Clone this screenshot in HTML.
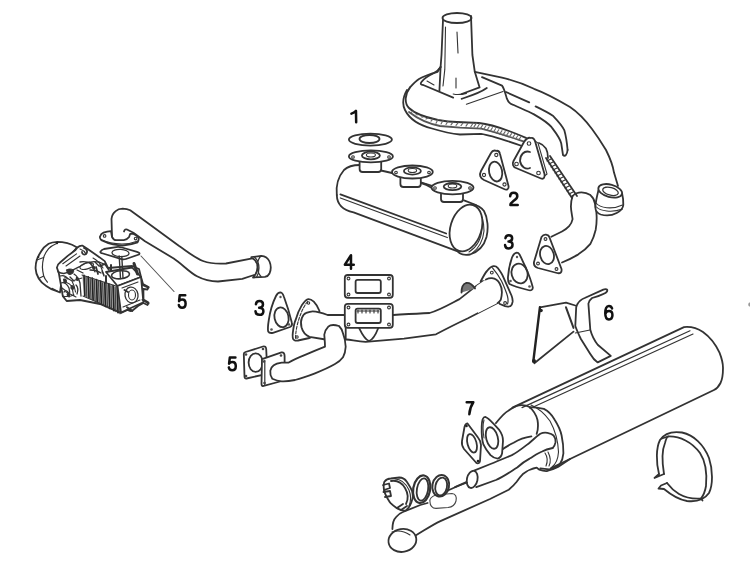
<!DOCTYPE html>
<html><head><meta charset="utf-8">
<style>
html,body{margin:0;padding:0;background:#fff;width:750px;height:563px;overflow:hidden}
svg{display:block}
.l{fill:none;stroke:#333;stroke-width:1.8;stroke-linejoin:round;stroke-linecap:round}
.t{fill:none;stroke:#333;stroke-width:1.1;stroke-linecap:round}
.w{fill:#fff;stroke:#333;stroke-width:1.8;stroke-linejoin:round}
.n{font-family:"Liberation Sans",sans-serif;font-weight:bold;font-size:17px;fill:#111}
</style></head><body>
<svg width="750" height="563" viewBox="0 0 750 563">
<!-- HEATER BOX (top) -->
<g id="heater">
<path class="l" d="M410,87.4 C413,84 416,81 419,79 C424,76 430,74 437.6,71.8 L440.6,67"/>
<path class="l" d="M440.6,67 C438,71 434,73 434,73 C428,76 424,78 421.4,82 C420,84 421,85 423.2,85 L453.2,97.6"/>
<path class="t" d="M427,81 L434,85"/>
<path class="l" d="M407,90 C403,97 402,104 405,110 C409,118 418,125 432,128.5 C442,131.5 450,133.5 460,134.5 L481,133.8 C490,135 505,140 522,146"/>
<path class="l" d="M410,87.4 C405,94 404,103 409,108 C413,112 420,116 438,120 C446,121.5 452,122 457,122 L479,123 C490,124 510,131 526,137.9"/>
<path class="l" d="M409,112 C418,119 430,124 440,126 L460,127.6 L481.3,128.7 C495,132 510,137 524,141.5" style="stroke:#555"/>
<path class="t" d="M413.0,111.1 L411.0,112.6 M418.0,114.7 L416.0,114.7 M423.0,117.1 L421.0,116.8 M428.0,118.0 L426.0,119.0 M433.0,118.8 L431.0,121.1 M438.0,119.6 L436.0,123.3 M443.0,120.5 L441.0,124.0 M448.0,121.3 L446.0,124.5 M453.0,122.1 L451.0,124.9 M458.0,122.8 L456.0,125.3 M463.0,123.0 L461.0,125.7 M468.0,123.1 L466.0,126.1 M473.2,123.0 L470.8,126.7 M476.4,123.1 L474.0,126.9 M479.6,123.8 L477.2,127.7 M482.8,124.8 L480.4,128.6 M486.0,125.8 L483.6,129.5 M489.2,126.8 L486.8,130.5 M492.4,127.7 L490.0,131.4 M495.6,128.7 L493.2,132.3 M498.8,129.7 L496.4,133.2 M502.0,130.6 L499.6,134.2 M505.2,131.6 L502.8,135.1 M508.4,132.6 L506.0,136.0 M511.6,133.6 L509.2,136.9 M514.8,134.5 L512.4,137.9 M518.0,135.5 L515.6,138.8 M521.2,136.5 L518.8,139.7 " style="stroke:#666;stroke-width:1.1"/>
<path class="l" d="M443,20 L441.5,55 L440.6,67 L439.4,91"/>
<path class="t" d="M445.5,27 L444.8,69.4 L443,86"/>
<path class="l" d="M471,16 L472.4,55 L474.8,71.8 L479.6,87.4 L461.6,94"/>
<path class="l" d="M486.8,88 C480,93 470,96 461.6,98.8"/>
<path class="t" d="M453.2,94 C457,95 462,94.5 466.4,93.4"/>
<path class="t" d="M457,32 L458,53 M456,78 L456,88"/>
<ellipse class="l" cx="457" cy="18" rx="14.5" ry="5"/>
<path class="l" d="M474.8,71.8 L502,77.6 C512,80 524,84 534,88.8 C548,94 560,101 570,107 C579,113 586,121 592,129 C598,137 603,145 606,150 C610,158 613,166 614,172.6 L618,186"/>
<path class="l" d="M482,77.2 L502,85.6 C504,88 505,92 506.8,98.4 C508,102 510,104 513.2,104.8 C520,108 528,111 534,114.4 C542,119 548,123 551.6,127.2 C556,133 560,138 561.2,143.2 L563,155 C565,157 567,155 567.6,150"/>
<path class="l" d="M506,92 L529.2,102.4 M535.6,106.4 C543,110 549,113 553.2,116 C558,121 562,125 564.4,130.4 C566,136 567,143 567.6,150"/>
<path class="t" d="M466.4,104.2 L503,91.5"/>
</g>
<!-- heater flange & flex -->
<path class="w" d="M530.8,138 C528,137 526,139 524,142 L513.5,161 C512,164 513,167 516,168 L541,178.5 C544,179.5 545,177 544.5,174 L535,141 C534,138 532.5,137.5 530.8,138 Z"/>
<path class="t" d="M535,141 L538,143 L547,174 L544.5,176"/>
<path class="l" d="M530,152 C524,150 520,155 520,161 C521,167 526,170 530,168"/>
<circle class="t" cx="529" cy="143.5" r="1.8"/><circle class="t" cx="516.5" cy="164" r="1.8"/><circle class="t" cx="538.5" cy="173" r="1.8"/>
<path class="l" d="M546,158 L572,198 M550,156 L577,196"/>
<path class="t" d="M547,161 l4,-2 M549,164 l4,-2 M551,167 l4,-2 M553,170 l4,-2 M555,173 l4,-2 M557,176 l4,-2 M559,179 l4,-2 M561,182 l4,-2 M563,185 l4,-2 M565,188 l4,-2 M567,191 l4,-2 M569,194 l4,-2"/>
<path class="l" d="M539,143 C545,145 548,150 548,158"/>
<!-- elbow -->
<path class="l" d="M572.6,196 C575,193.5 578,192.4 581.5,192.4 C585,192.4 588,193.5 590.4,195.1 C593,197.5 594.5,200 594.8,203.1 C596,207 596.6,211 596.6,215.5 C596.8,220 596.5,225 595.7,229.7 C594.5,235 592.5,240 590.4,243.9 C587,248 583,251.5 578,254.6 C573,257.5 568,260 562,262.5"/>
<path class="l" d="M572.6,196 C571.5,199 571,203 570.9,206.6 C571,211 572,215 572.6,219.1 C572,222 571,224 569.1,226.2 C567,228.5 565,230 562,231.5 L551.3,236.8"/>
<path class="w" d="M598.5,190 C597,196 595.5,202 595.3,207.3 C595.5,211 597.5,213.5 600.7,214.5 C606,216 612,215.5 616.7,213 C620.5,211 623,209 623.3,205 C623.5,201 623,197 622,193"/>
<path class="t" d="M596,203 C600,208 612,210 622.5,205 M596.5,207 C600,211 612,213 622.5,209"/>
<ellipse class="w" cx="610.2" cy="190.8" rx="12.2" ry="6.2" transform="rotate(15 610.2 190.8)"/>
<ellipse class="t" cx="610.5" cy="191.3" rx="8" ry="3.8" transform="rotate(15 610.5 191.3)" style="stroke-width:1.3"/>
<!-- GASKET 2 -->
<path class="l" d="M496.4,150.8 C494,150 492,151 491,153 L481,171 C479,175 480,178 484,180 L504,189 C507,190.5 509,189 508.5,186 L500,154 C499.5,151.5 498,150.5 496.4,150.8 Z"/>
<ellipse class="l" cx="495.6" cy="171.6" rx="6.5" ry="10" transform="rotate(-12 495.6 171.6)"/>
<circle class="t" cx="496.3" cy="155" r="1.6"/><circle class="t" cx="484" cy="175" r="1.6"/><circle class="t" cx="504.5" cy="184.5" r="1.6"/>
<!-- GASKET 1 + MUFFLER -->
<ellipse class="l" cx="370.4" cy="139.6" rx="21.5" ry="6"/>
<ellipse class="l" cx="369.5" cy="139" rx="10" ry="4"/>
<path class="l" d="M336.8,195 C336,187 338,177 344,170 C348,166 354,165 360,165"/>
<path class="l" d="M381,170.5 L392,173 M420.8,182.4 L432.8,186 M464,200.4 L476,205"/>
<path class="l" d="M336.8,195 C337,203 342,210 353.6,212.4 L457.7,251.4"/>
<path class="l" d="M340.4,194.4 L446.2,233.5" style="stroke-width:1.8"/><path class="l" d="M340.4,198 L447.3,237.5" style="stroke-width:1.3"/>
<path class="l" d="M471.6,204.2 C476,205 481,207 484,211 C488,218 488.5,229 486.5,237 C484,246 478,252 470,254.5 C465,255.5 460,254 457.7,251.4"/>
<path class="t" d="M474,206 C479,210 482,218 482,228 C481.5,238 477,247 469,252"/>
<path class="t" d="M477,208 C482,214 484,222 484,231 C483,241 479,248 472,253.5"/>
<ellipse class="w" cx="466" cy="228" rx="15.5" ry="24" transform="rotate(17 466 228)"/>
<!-- flanges on muffler -->
<g>
<rect class="w" x="359.6" y="157" width="21.6" height="15" rx="3"/>
<ellipse class="w" cx="370.9" cy="156.4" rx="22" ry="6"/>
<ellipse class="l" cx="370.9" cy="155.5" rx="9" ry="3.8"/>
<ellipse class="t" cx="370.9" cy="155" rx="4.5" ry="2"/>
<circle class="t" cx="353" cy="157" r="1.3"/><circle class="t" cx="389" cy="157" r="1.3"/>
<rect class="w" x="400.4" y="173" width="20.4" height="14" rx="3"/>
<ellipse class="w" cx="412.4" cy="172" rx="20.4" ry="6.5"/>
<ellipse class="l" cx="412.4" cy="171" rx="8.5" ry="3.6"/>
<ellipse class="t" cx="412.4" cy="170.5" rx="4.2" ry="2"/>
<circle class="t" cx="396" cy="172.5" r="1.3"/><circle class="t" cx="429" cy="172.5" r="1.3"/>
<path class="l" d="M421,183 C426,184 429,186 432,188"/>
<rect class="w" x="441" y="189" width="22" height="13" rx="3"/>
<ellipse class="w" cx="452.5" cy="187.6" rx="21" ry="6.8"/>
<ellipse class="l" cx="452.5" cy="186.6" rx="8.8" ry="3.6"/>
<ellipse class="t" cx="452.5" cy="186" rx="4.3" ry="2"/>
<circle class="t" cx="435" cy="188" r="1.3"/><circle class="t" cx="470" cy="188" r="1.3"/>
</g>
<!-- ENGINE PIPE -->
<path class="l" d="M112,237 L111.5,218.9 C112,215 113,213 115.3,211.4 C117.5,209.5 120,208.7 122.7,208.7 C125.5,208.8 128,209.3 130.2,210.3 L145,221 L178.8,245.8 C188,252 195,258 203,261 C210,263.5 218,264 226,263.5 L253.6,258.2"/>
<path class="l" d="M124,231.5 C124.5,229.5 126,229 127,229.5 L133.4,232.7 L145,241.2 L173.7,258.5 C182,264 189,272 197,276.3 C204,280 210,281.5 218,281.5 L242.3,278.8 L254,275"/>
<path class="w" d="M251.3,257.2 L261.3,255.8 C265,256 268,258 269.5,261.5 C271,265 271,270 269.5,273.5 C268.5,275.5 267,276.5 264.9,276.9 L253,277.5 C255.5,275 257.5,271 257.5,267 C257.5,263 255,259.5 251.3,257.2 Z"/><path class="t" d="M261.3,255.8 C258.5,258 257.5,262 257.5,266 C257.5,270 258.5,274 261,276.5 M254.5,257 C257.5,260 259,264 259,268 C259,272 258,275 256.5,277.3" style="stroke-width:1.2"/>

<path class="t" d="M141,256 L174,291.5" style="stroke:#555"/>
<!-- ENGINE -->
<g id="engine">
<!-- pipe flange -->
<path class="w" d="M99.8,237 C100.5,235 101.5,233.5 103.5,232.7 C106,231.8 108.5,231.3 111,231.1 L112,237 C113,239 115,240.2 116.3,240.2 L123.8,240.2 C126,239.8 128,238.5 129.1,237 L130.2,233.8 L133.4,233.8 C135.5,234.5 137.5,236 138.7,238 C139,239.5 138.5,241 137.6,242.3 C133,244 128,245 122.7,245.5 C119.5,245.5 116,245 113.1,244.4 C109,243.5 105,242 101.4,240.2 C100.5,239.5 100,238.5 99.8,237 Z"/>
<path class="t" d="M101,239.5 C106,242 113,243.8 122,244 C128,244 133,243 138,241" style="stroke-width:1.2"/>
<circle class="t" cx="104.6" cy="235.9" r="1.3"/><circle class="t" cx="135.6" cy="238.6" r="1.3"/>
<!-- lower gasket -->
<path class="w" d="M100.3,251.9 C101,250.5 102,249.5 104,249 L116.3,247.1 C118,246.8 120,247 122,247.5 L137,251.8 C139.5,252.5 140,253.5 139,254.5 L126,259 C124.5,259.5 123,259.5 121.5,259.2 L103,253.5 C101,253 100.3,252.5 100.3,251.9 Z"/>
<ellipse class="l" cx="120.5" cy="253" rx="8.5" ry="3.6" transform="rotate(3 120.5 253)" style="stroke-width:1.3"/>
<!-- fan shroud -->
<path class="w" d="M57.4,241.8 C54,242 51,242.5 48.6,243.7 C45,246 43,248 41.2,251.2 C39,255 37.5,257 36.8,259.9 C35.8,263 35.5,266 35.6,268.6 C35.7,272 37,275.5 38.7,278.5 C40.5,281.5 43,284 46.2,286 C49,288 52.5,290 56.1,291 L60,292.5 L64,262 L77.2,247.4 C74,245.5 71,244 67.3,243.1 C64,242.3 60,241.8 57.4,241.8 Z"/>
<path class="t" d="M56.1,243.7 C53,245 50.5,246.5 48.6,248.7 C46,252 44.5,254.5 43.7,257.4 C42.8,261 42.4,264 42.4,267.3 C42.5,270.5 43,273 43.7,276 C44.5,278.5 46,280.5 47.4,282.2" style="stroke-width:1.2"/>
<path class="t" d="M36.8,259.9 L43.7,257.4 M38.7,278.5 L43.7,276 M52,288.2 L57.9,291.2"/>
<circle cx="57" cy="243" r="1.2" fill="#222"/><circle cx="38.5" cy="257" r="0.9" fill="#222"/>
<!-- main body silhouette -->
<path class="w" d="M56.9,267.6 C57.5,265 58.5,263.5 59.8,262.7 L67.7,255.9 L75.5,250 L77.5,247.5 C79,246 81,245.5 82.3,245.6 L87.3,248.7 L99.7,257.4 L104.7,261.1 L108,268 L132.2,266 L139,269 L141,277 L143,284 L148.5,287 L147.5,289.5 L143.4,289 L143.5,299.5 L148.5,302.5 L147.5,305 L143.4,303 L138,306 L132.5,310.5 L130,311 L127.5,310 L121,312.8 L116,311 L100,304 L80,300 L66.7,301 L62.8,296.1 L60.8,284.3 L58.9,273.5 Z"/>
<!-- manifold -->
<path class="l" d="M57.9,271.6 C60,273 62,273.5 63.8,273.5 C66,273 69,272 71.6,270.6 L79.5,266.7 L86.3,262.7 L92.1,261.8 C96,261.5 100,262 104,264" style="stroke-width:1.3"/>
<path class="t" d="M62.8,263.7 L76.5,253.9 M66,266 L80,256 M80,249 C83,250 85,252 86,254"/>
<path class="l" d="M84,248 C87,249 88,252 86,254 C84,255.5 82,254 82,252"/>
<ellipse class="t" cx="86.7" cy="266" rx="7" ry="3" transform="rotate(-15 86.7 266)" style="stroke-width:1.2"/>
<path class="l" d="M66.7,270 C68,268.6 71,268.6 73.6,270 C74,272 73,274 70,274.5 C68,274.5 66.7,273 66.7,270 Z" style="fill:#333;stroke-width:1"/>
<path class="t" d="M64.8,277.5 C67,278 70,279.5 72,281 C74,285 75,288 75.5,292 M66.5,282.5 C68,283 70,284 71.5,286 C72.5,289 73,292 73.5,295 M62,288 L66,291 M72,281 L82,278 M93,258 C97,260 100,263 103,268 M99,262 L104,275 M89,262 C92,265 94,268 95,272"/>
<path class="l" d="M71.5,285.5 C73,285 74.5,286.5 74,288.5 C73.5,290 71.5,290 71,288.5 Z" style="fill:#333;stroke-width:1"/>
<path class="l" d="M100,266 L105,264 L109,270 M96,267 L98,274"/>
<path class="t" d="M63,296 C66,297 70,296.5 74,295 M66,292 L76,297"/>
<!-- extra texture -->
<path class="t" d="M60,276 C63,275 66,276 68,279 M61,283 C64,282 67,284 69,288 C70,291 70,294 69,297 M74,274 C77,276 79,279 80,283 L81,296 M77,270 L83,273 M70,277 L74,281 M64,292 C66,290 68,291 69,294 M76,285 C78,287 78,291 77,294 M80,262 C84,261 88,262 92,264 M90,270 C94,270 98,271 101,273 M95,262 L99,266 M102,271 L104,276" style="stroke-width:1.3;stroke:#333"/>
<path d="M63,279 C65,278 67,279 67,281 C67,283 65,284 63.5,283 Z M76,277 C78,276.5 79.5,278 79,280 C78,281.5 76,281 75.5,279.5 Z M67,293 C69,292 70.5,293.5 70,295.5 C69,297 67,296.5 66.5,295 Z M92,265.5 C94,265 96,266.5 95.5,268.5 C94.5,270 92.5,269.5 92,268 Z" fill="#333"/>
<!-- fins -->
<path d="M82,275 L117.5,286.5 L121,312.5 L84,296 Z" fill="#bbb" stroke="none"/>
<path class="l" d="M84.0,275.3 L84.8,295.5 M88.2,276.8 L89.0,297.7 M92.3,278.2 L93.1,299.8 M96.5,279.7 L97.2,302.0 M100.6,281.2 L101.4,304.1 M104.8,282.7 L105.5,306.3 M108.9,284.1 L109.7,308.4 M113.1,285.6 L113.9,310.6 M117.2,287.1 L118.0,312.7 " style="stroke-width:1.7;stroke:#222"/>
<path class="t" d="M86.0,277.0 L86.8,296.5 M90.2,278.5 L91.0,298.7 M94.3,280.0 L95.1,300.8 M98.5,281.4 L99.2,303.0 M102.6,282.9 L103.4,305.1 M106.8,284.4 L107.5,307.3 M110.9,285.8 L111.7,309.4 M115.1,287.3 L115.9,311.6 M119.2,288.8 L120.0,313.7 " style="stroke:#444;stroke-width:1.2"/>
<path class="t" d="M82,275 L117.5,286.5 M83,296 L121,312.5"/>
<!-- cylinder head top face -->
<path class="w" d="M106,272 L132,267.5 L141,277 L117.5,286 Z"/>
<ellipse class="l" cx="120.5" cy="274.8" rx="9" ry="4" transform="rotate(-6 120.5 274.8)" style="stroke-width:1.6"/>
<!-- right face -->
<path class="w" d="M117.5,286 L141,277 L143.4,302.2 L121,312.5 Z"/>
<ellipse class="l" cx="131.5" cy="295" rx="6.5" ry="8" transform="rotate(-10 131.5 295)" style="stroke-width:1.3"/>
<ellipse class="t" cx="132" cy="295" rx="3.5" ry="5"/>
<path class="t" d="M122,288 L138,282 M123,307 L140,300"/>
<!-- studs -->
<path class="l" d="M119.2,256 L120.5,278.6 M121.8,256.5 L123,278" style="stroke-width:1.4"/>
<path class="l" d="M134,263.5 L137.5,274" style="stroke-width:3"/>
<path class="l" d="M142.5,284.8 L148.5,287.5 M142.5,299.7 L148.5,303.5 M127,307.2 L132.2,310.9 M124.5,290 L128,292" style="stroke-width:2"/>
<path class="l" d="M106,276 L106,283 M111,265 L111,271" style="stroke-width:2"/>
</g>
<!-- MID PIPES: gaskets 3,4,5 -->
<path class="l" d="M280.6,292.4 C278.5,292.5 277,294 276,296 C272.5,303 270,312 268.8,320 C268,325 267.5,329 268.2,331.5 C269,333 271,333.2 273,332.8 L290,327 C292,326 292.5,324.5 291.8,322.5 C290,315 287,305 284,297 C283,294 282,292.5 280.6,292.4 Z"/>
<ellipse class="l" cx="281.5" cy="317.3" rx="7" ry="10" transform="rotate(-12 281.5 317.3)"/>
<circle cx="280.5" cy="297" r="1.2" fill="#555"/><circle cx="271.5" cy="329.5" r="1.3" fill="#555"/><circle cx="289" cy="324.5" r="1.2" fill="#555"/>
<!-- flange 3 left on pipe -->
<path class="w" d="M308.4,299.1 C310.5,299 312.5,300.5 313.8,301.7 C316,304 318,307 319.5,311 L312,336 C311,337.5 310,338 309.5,338 L298,340.5 C295,341 293,340 292.8,338 C292.5,336 292.5,335 292.8,333 C293.5,327 294.5,322 295.7,319.8 C297.5,313 299.5,309 302,304.9 C304,302 306,299.5 308.4,299.1 Z"/>
<path class="t" d="M307.5,301.5 C304,306 300,314 297.5,324 C296,330 295.5,335 295.5,339" style="stroke-dasharray:3 1.5"/>
<circle class="t" cx="308.5" cy="303" r="1.2"/><circle class="t" cx="297" cy="337" r="1.2"/>
<path class="w" d="M319.1,312.4 C322,313 325,314 327.6,315 L345.7,315 L345.7,339.5 L325.5,339.5 L309.5,336.9 C305,335 302.5,331 301.5,327.3 C300.5,323 301,320 302,317.7 C303,315 304.5,313.5 306.3,312.9 C309,311.8 311,311.3 312.7,311.3 C315,311.3 317,311.7 319.1,312.4 Z"/>
<path class="l" d="M393.3,315 L400,314.5 C412,314 422,313.5 429.6,313 C440,310 450,304 459.5,299.1 L476.3,285.9 L486,279.5"/>
<path class="w" d="M245.5,352 L263,346.5 C265,346 266,347 266.2,349 L267.3,371.5 C267.4,373 266.5,374 265,374.3 L246.5,378.5 C245.2,378.7 244.5,378 244.5,376.5 L243.8,354 C243.8,353 244.5,352.3 245.5,352 Z"/>
<ellipse class="l" cx="255.7" cy="362.6" rx="7.1" ry="9.3"/>
<circle cx="246" cy="354.5" r="1.3" fill="#444"/><circle cx="263" cy="349" r="1.3" fill="#444"/><circle cx="246" cy="376" r="1.3" fill="#444"/>
<!-- flange 5 -->
<path class="w" d="M262,359.1 L281.5,352.4 C283.5,352 284.6,353.5 284.6,356 L284.6,366 L280,381.5 L262.8,386.1 C261.8,386 261.5,385 261.5,383.5 Z"/>
<path class="t" d="M264.8,360.4 L264.8,384.4" style="stroke-width:1.2"/>
<circle cx="264" cy="361.5" r="1.3" fill="#444"/><circle cx="281" cy="355.5" r="1.3" fill="#444"/><circle cx="264.5" cy="383" r="1.3" fill="#444"/>
<!-- lower pipe to flange 5 -->
<path class="w" d="M328.3,326.7 C330,325 334,324.5 339,326 C341,328 342.5,330.5 343,333.3 C344.5,337 345.5,342 345.7,346.7 C345.5,351 344.5,354.5 343,357.3 C341,360 338,362.5 335,364 C329,367.5 322,370.5 315,373.3 C308,376 301,378.5 295,380 C290,381 285.5,381.5 281.7,381.3 C278,381 275,380 272.3,378.7 C270.5,376 270,373 270.3,370.7 C271,368 272,366.5 273.7,365.3 C276,363.5 279,363 281.7,362.7 C284,362.5 286,362.7 288.3,362.7 C294,359.5 300,357 305.7,354.7 C312,352 318,349.5 325,346.7 C325,342 324.5,338 324.3,334.7 C325,331 326.5,328.5 328.3,326.7 Z"/>
<path class="l" d="M346.5,339.5 C352,340 358,341.5 365.6,341.8 L404,338.6 L436,334.3 C448,328 458,323 468,318.3 L497.6,303"/>
<!-- flange 4 -->
<rect class="w" x="344.8" y="275" width="48" height="22.8" rx="3"/>
<rect class="l" x="355.6" y="279.8" width="25.2" height="13.2" rx="2"/>
<circle class="t" cx="348.5" cy="278.5" r="1.4"/><circle class="t" cx="389" cy="278.5" r="1.4"/><circle class="t" cx="348.5" cy="294.5" r="1.4"/><circle class="t" cx="389" cy="294.5" r="1.4"/>
<path class="l" d="M359,327.8 C362,334 366,340 369,341 C373,340 376,334 378.4,327.8"/>
<rect class="w" x="344.8" y="303.8" width="48" height="24" rx="3"/>
<rect class="l" x="355.6" y="308.6" width="25.2" height="14.4" rx="2"/>
<path class="t" d="M357,311 L379,311 M358,313 l0,-3 M362,313 l0,-3 M366,313 l0,-3 M370,313 l0,-3 M374,313 l0,-3 M378,313 l0,-3"/>
<circle class="t" cx="348.5" cy="307.5" r="1.4"/><circle class="t" cx="389" cy="307.5" r="1.4"/><circle class="t" cx="348.5" cy="324.5" r="1.4"/><circle class="t" cx="389" cy="324.5" r="1.4"/>
<!-- gasket 5 & flange 5 -->
<!-- gasket 3 right + flange -->
<path class="l" d="M516.8,252.7 C514.5,253 513,255 512,257.5 C510,263 508.5,270 508,277 C507.8,280 508,282.5 509.5,284 C513,286 520,288 528,290 C531,290.8 533,290 532.8,287.5 C531.5,282 529,275 526,268 C523,262 521,257 519.5,254.5 C518.8,253.3 517.8,252.7 516.8,252.7 Z"/>
<ellipse class="l" cx="519.6" cy="273.5" rx="8" ry="10" transform="rotate(-15 519.6 273.5)"/>
<circle cx="517" cy="257" r="1.2" fill="#555"/><circle cx="510.5" cy="281" r="1.3" fill="#555"/><circle cx="529.5" cy="286.5" r="1.3" fill="#555"/>
<path class="w" d="M480.6,281.6 C483,277 485,273 487,271 C489,268.5 491,266.5 493.4,266.2 C495,266 496.5,266.5 497.6,267.8 C500,271 502,274 503,276.3 L507.2,285.9 L511.5,295.5 C512.5,298 512.8,300 512.6,301.9 C512.3,304 511.5,305.5 510.4,306.2 C508.5,306.8 506.5,306.7 505.1,306.2 L499.8,304 L486,281 Z"/>
<path class="t" d="M492.5,267.8 C496,272 499,276 501.5,281 C503.5,285 505,289 506.5,293 C508,297 509,300 507.5,304" style="stroke-width:1.2"/>
<circle class="t" cx="491.8" cy="272.6" r="1.4"/><circle class="t" cx="505.1" cy="303" r="1.4"/>
<path d="M476.3,285.9 L485.9,279.5 C488,278.5 490,278 492,278.2 C495,278.5 498,280.5 499.8,283.8 C501.5,287 502,290 501.9,292.3 C501.8,295.5 501.3,298 500.8,299.8 C500,301 499,302.3 497.6,303 L478,313 Z" fill="#fff"/>
<path class="l" d="M485.9,279.5 C488,278.5 490,278 492,278.2 C495,278.5 498,280.5 499.8,283.8 C501.5,287 502,290 501.9,292.3 C501.8,295.5 501.3,298 500.8,299.8 C500,301 499,302.3 497.6,303"/>
<path class="l" d="M461.5,292.5 C461.5,288 463,284 466,283 C469,282.5 472,284 475,288.5" style="fill:#777"/>
<!-- flange on elbow (right) -->
<path class="w" d="M546,234.6 C544,234.3 542.5,235.5 541.5,237 L534,262 C533.5,265 535,267 538,268 L557,273 C560.5,274 562,272 561.5,269 L549.5,237.5 C549,235.5 547.5,234.8 546,234.6 Z"/>
<ellipse class="l" cx="547" cy="255" rx="6.8" ry="9.3" transform="rotate(-15 547 255)"/>
<circle class="t" cx="545.5" cy="239" r="1.4"/><circle class="t" cx="538" cy="263.5" r="1.4"/><circle class="t" cx="556.5" cy="269" r="1.4"/>
<!-- BRACKET 6 -->
<path class="l" d="M539.9,307.3 L566,302.7 L575.3,305.5 M573.5,331.6 L534.3,363.3"/><path class="l" d="M539.9,307.3 L533.3,361.5" style="stroke-width:2.4;stroke:#222"/>
<path class="l" d="M566,307.3 L573.5,327.9" style="stroke-width:2"/>
<path class="l" d="M577.2,304.5 C579,301 582,299 584.7,298 L603.3,289.6 C606,288.5 608,289.5 607,291.5 C606,293.5 602,295 592.1,298 C590,299.5 589,301 588.4,303.6 L590.3,329.7 C592,336 594,340 597.7,344.7 L610.8,355.9 L597.7,362.4 C594,360 592,357 590.3,354 L580.9,339 C578,333 576,328 575.3,326 L576.2,307.3 C576.5,306 577,305 577.2,304.5 Z"/>
<path class="t" d="M575.3,333 L590,330"/>
<circle cx="541" cy="310.5" r="1.8" fill="#222"/><circle cx="534" cy="361" r="2" fill="#222"/>
<!-- MUFFLER -->
<path class="l" d="M512.4,407.6 L684,327.1 C690,326.5 697,328 703,332 C710,337 716,345 719.5,352.7 C722,359 723,364 723,368 C723,375 722,380 720.5,383 C719,386 717,388.5 714,390 L550.7,468.3"/>
<path class="t" d="M522,407.6 L690,330.8 M530,408.5 L693,334" style="stroke-width:1.2"/>
<path class="l" d="M529.6,407.1 C535,407 540,408 543.9,408.9 C548,411 552,415 554.5,419.5 C558,425 560.5,430 561.6,435.5 C563,442 563.5,448 563.4,453.3 C563,458 562,461 559.9,464 C557,467 553,469 549.2,469.3 L540.3,468.4"/>
<path class="t" d="M531,405 C538,408 545,414 550,421 C555,430 558,440 558.5,452 C558,460 556,464 552,467"/>
<!-- pipes from muffler -->
<path class="l" d="M495.9,423.1 C500,418 504,413 508.3,410.7 C512,408 515,406 519,405.3 C523,404.8 527,405.5 529.6,407.1 C533,410 536,414 537.5,420 C538.5,426 538,430 536.7,433.8"/>
<path class="l" d="M499.4,451.5 C504,448 509,445 513.6,442.7 C518,440 524,437.5 531.4,436.4"/>
<path class="l" d="M472.8,471.1 L490.5,464 C498,461 505,458 511.9,455.1 C518,452 524,447 529.6,442.7 C534,439 537,436 540.3,433.8 C543,432.5 545,432.5 547.4,432.9 C550,433.5 552.5,434.5 553.6,435.5 C555,437.5 555.8,440 555.4,442.7 C555,445 554,447 552.7,448"/>
<path class="l" d="M476.3,487.1 L495.9,480 C503,477 510,472 517.2,467.5 C521,464 525,461 529.6,458.6 C534,456 538,453 542.1,451.5 C545,450 548,449 552.7,448"/>
<path class="t" d="M545,453 C547,456 548,461 546,466 M548,452 C550,456 551,462 549,466"/>
<path class="l" d="M455,487.1 L467.4,481.7"/>
<ellipse class="w" cx="472.2" cy="479.4" rx="5.3" ry="8.7" transform="rotate(12 472.2 479.4)"/>
<!-- clamp ring -->
<path class="l" d="M659,474 C656,462 656,448 660,440 C664,434 672,431 682,432.5 C694,435 704,445 709,458 C713,470 713,485 709,493 C704,500 696,502 687,501 C678,499.5 670,494 664,489 L658.5,488.5 L661,485.5 L667,483"/>
<path class="l" d="M664,474 C662,462 662,450 665,443 C666,439 667,437 668,436.5 C680,436 692,442 700,453 C706,462 707,475 706,486 C705,492 703,496 701,498.5 C694,499 686,498 679,494 C674,491 670,487 667,483"/>
<path class="l" d="M668,436.5 L662,438.5 M701,498.5 L702.5,500.5 M659,474 L654.5,478 L664,474"/>
<!-- gasket 7 + flange 7 -->
<path class="l" d="M467.3,423.3 C466,423.5 465,425 464.5,427 L462,441 C461.5,444 462.5,447 464,449 L476,462.5 C477.5,464 479.5,463.5 480,461 L481,445 C481,442 480,440 478,437.5 Z"/>
<ellipse class="l" cx="472" cy="443.3" rx="4.5" ry="9.5" transform="rotate(-15 472 443.3)"/>
<circle cx="466.5" cy="426" r="1.3" fill="#222"/><circle cx="478" cy="461" r="1.3" fill="#222"/>
<path class="w" d="M485.2,416.9 C488,417.5 494,424 499.4,430.2 C501.5,433 503,437 503,440.9 L502.1,453.3 C501.5,456 500,458 497.7,458.6 C495,458.5 492.5,457 490.5,455.1 C487,451 485,448 483.4,444.4 C482,440 481.5,434 481.7,426.7 C481.8,421 483,417 485.2,416.9 Z"/>
<ellipse class="l" cx="492" cy="438" rx="5.8" ry="11" transform="rotate(-15 492 438)"/>
<path class="t" d="M484,420 C482.5,425 483,432 484,438"/>
<!-- main long pipe -->
<path class="l" d="M392.4,529 C392.5,523 393.5,519.5 395.9,517.3 C398,514.5 400,513 402.9,512 L420.3,505 L427.6,503 M448.4,490.3 L458,486 L467,482.5"/>
<path class="l" d="M414.8,536 C425,530 432,525 440.4,521.1 L490,499 L508.7,489.7 C512,487 514.5,484.5 516.7,481.7 C519,478.5 521,476 523.3,473.7 C527,471 532,468.5 536.7,467.7 C537.5,468.5 538.5,469.3 539.3,469.7 C542,470.7 545,471.2 547.3,471 C551,470 555,468.5 558,467 L570,459"/>
<ellipse class="w" cx="402.4" cy="540.4" rx="14" ry="11.5" transform="rotate(-10 402.4 540.4)"/>
<path class="t" d="M392,532 C398,530 404,531 410,535"/>
<!-- clamps -->
<path d="M430,502 C429,499 432,496 436,495 L452,493.5 C455.5,493.5 457,497 456,501 C455,505 452,507 448,507.5 L436,508.4 C432,508.4 430,505 430,502 Z" fill="#fff" stroke="#444" stroke-width="1.1"/>
<ellipse class="w" cx="440.7" cy="485.8" rx="8.3" ry="10.9" transform="rotate(12 440.7 485.8)" style="stroke-width:2"/>
<ellipse class="l" cx="441.2" cy="486.5" rx="5.8" ry="9" transform="rotate(12 441.2 486.5)"/>
<ellipse class="w" cx="421.7" cy="489.2" rx="8.5" ry="13.9" transform="rotate(10 421.7 489.2)" style="stroke-width:2.2"/>
<ellipse class="l" cx="422.5" cy="489.5" rx="5.6" ry="11.2" transform="rotate(10 422.5 489.5)"/>
<path class="w" d="M384.4,481.7 C386,479.5 388,478.5 390.8,478.5 L399.3,477.5 C402,477.5 405,479 406.8,481.7 C409,485 411,488 412.1,491.3 C413,495 413,498 412.1,499.9 C411,504 409,508 405.7,510.5 C403,511 400,510 397.2,508.4 C394,506 391,504 389.7,502 C387,498 385,494 384.4,491.3 C383.5,488 383.5,484 384.4,481.7 Z"/>
<path class="l" d="M391,481 C397,480 402,483 405,488 C408,493 408.5,499 406,504"/>
<path class="t" d="M395,479 C401,479 406,484 409,490 C411,495 411,501 409,506"/>
<path class="l" d="M383,485 L389,483.5 L390,488 L384,490 M383.5,492 L390,491 L391,496 L385,497"/>
<path class="l" d="M397,508 L403,504 M401,510 L407,506"/>
<g class="digits" style="fill:none;stroke:#111;stroke-width:2.5;stroke-linecap:round;stroke-linejoin:round">
<path transform="translate(350.6,110.1) scale(1.032,0.927)" d="M0.8,3.8 C2.5,3.2 4.2,2 5.2,0.8 L5.4,13.2" vector-effect="non-scaling-stroke"/>
<path transform="translate(509.1,192.2) scale(0.979,0.960)" d="M1.1,4.2 C1.1,1.8 2.7,0.6 4.7,0.6 C7,0.6 8.4,2 8.4,4.1 C8.4,6.4 6.4,7.6 4.4,9.1 C2.4,10.6 1.3,11.8 1.3,13.4 L8.8,13.4" vector-effect="non-scaling-stroke"/>
<path transform="translate(504.3,234.6) scale(0.958,0.993)" d="M1.2,3.6 C1.5,1.6 3,0.6 4.7,0.6 C6.9,0.6 8.2,2 8.2,3.8 C8.2,5.8 6.6,6.9 4.4,6.9 C7,6.9 8.6,8.3 8.6,10.3 C8.6,12.6 6.9,13.9 4.7,13.9 C2.5,13.9 1,12.6 0.8,10.5" vector-effect="non-scaling-stroke"/>
<path transform="translate(343.9,254.4) scale(1.074,1.007)" d="M6.6,14.2 L6.6,0.9 L0.9,10.2 L9.2,10.2" vector-effect="non-scaling-stroke"/>
<path transform="translate(254.7,300.5) scale(1.011,1.033)" d="M1.2,3.6 C1.5,1.6 3,0.6 4.7,0.6 C6.9,0.6 8.2,2 8.2,3.8 C8.2,5.8 6.6,6.9 4.4,6.9 C7,6.9 8.6,8.3 8.6,10.3 C8.6,12.6 6.9,13.9 4.7,13.9 C2.5,13.9 1,12.6 0.8,10.5" vector-effect="non-scaling-stroke"/>
<path transform="translate(178.0,294.2) scale(0.884,0.973)" d="M8.2,1 L2,1 L1.2,7.2 C2,6 3.4,5.5 4.8,5.5 C7.1,5.5 8.6,7.3 8.6,9.8 C8.6,12.4 6.8,13.9 4.6,13.9 C2.6,13.9 1.2,12.7 0.9,11" vector-effect="non-scaling-stroke"/>
<path transform="translate(228.0,356.6) scale(0.905,0.980)" d="M8.2,1 L2,1 L1.2,7.2 C2,6 3.4,5.5 4.8,5.5 C7.1,5.5 8.6,7.3 8.6,9.8 C8.6,12.4 6.8,13.9 4.6,13.9 C2.6,13.9 1.2,12.7 0.9,11" vector-effect="non-scaling-stroke"/>
<path transform="translate(604.3,305.3) scale(0.958,1.020)" d="M8.1,3.1 C7.6,1.5 6.4,0.6 4.8,0.6 C2.1,0.6 1,3.5 1,7.6 C1,11.6 2.5,13.9 4.8,13.9 C7.1,13.9 8.5,12.1 8.5,9.6 C8.5,7.1 7,5.6 4.9,5.6 C3,5.6 1.5,6.9 1,8.6" vector-effect="non-scaling-stroke"/>
<path transform="translate(465.9,401.2) scale(0.884,0.933)" d="M0.9,1.2 L8.4,1.2 C6,4.5 4.3,9.2 3.9,14" vector-effect="non-scaling-stroke"/>
</g>
<ellipse cx="749.5" cy="304.5" rx="1.2" ry="2" fill="#999"/>
</svg>
</body></html>
